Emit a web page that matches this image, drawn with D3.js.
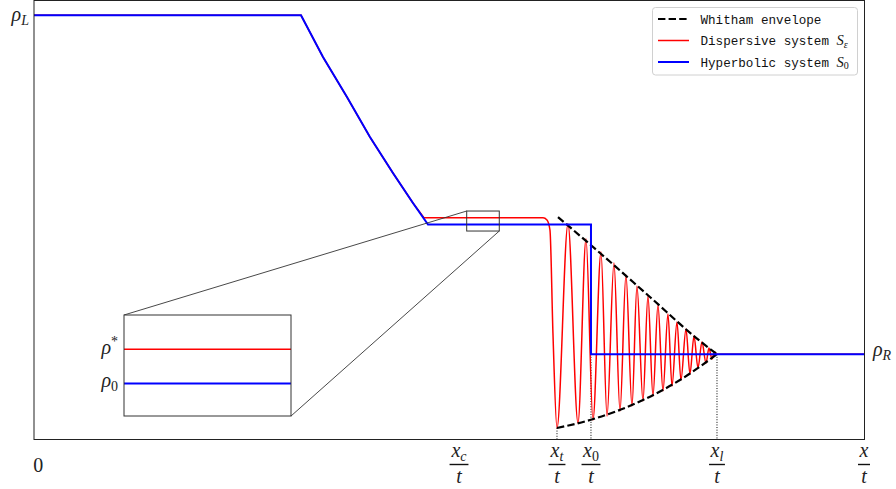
<!DOCTYPE html>
<html lang="en">
<head>
    <meta charset="UTF-8">
    <title>Dam break: dispersive vs hyperbolic</title>
    <script src="https://d3js.org/d3.v7.min.js"></script>
    <style>
        body { margin: 0; background: #fff; }
        .math { font-family: "Liberation Serif", "DejaVu Serif", serif; font-style: italic; font-size: 20px; fill: #222; }
        .up { font-style: normal; }
        .leg { font-family: "Liberation Mono", "DejaVu Sans Mono", monospace; font-size: 12.6px; fill: #111; }
    </style>
</head>
<body>
    <svg width="896" height="489"></svg>

    <script>
    // levels
    var rhoL = 5, rhoR = 1, rho0 = 2.53, rhoStar = 2.61
    // abscissae of the labelled points
    var xc = 5.09, xt = 6.275, x0 = 6.686, xl = 8.21, xMax = 10
    var tickPos = [xc, xt, x0, xl, xMax]
    var tickSub = ["c", "t", "0", "l", ""]

    // rarefaction fan of S0
    var rarefaction = [[3.179, 5], [3.445, 4.507], [3.735, 4.035], [4.013, 3.563],
                       [4.291, 3.139], [4.533, 2.785], [4.715, rho0]]

    // dispersive solution: plateau, then extrema of the oscillations
    var redWave = [[4.666, rhoStar], [6.106, rhoStar], [6.154, 2.584], [6.190, 2.466], [6.226, 1.251],
        [6.275, 0.130], [6.408, 2.537], [6.529, 0.189], [6.626, 2.360], [6.710, 0.224],
        [6.807, 2.206], [6.880, 0.271], [6.964, 2.077], [7.037, 0.330], [7.109, 1.935],
        [7.182, 0.389], [7.242, 1.805], [7.315, 0.448], [7.375, 1.687], [7.436, 0.507],
        [7.496, 1.581], [7.557, 0.566], [7.617, 1.475], [7.666, 0.625], [7.726, 1.381],
        [7.774, 0.696], [7.835, 1.298], [7.883, 0.767], [7.932, 1.215], [7.980, 0.838],
        [8.028, 1.145], [8.077, 0.897], [8.113, 1.074], [8.149, 0.944], [8.180, 1.027],
        [8.210, rhoR], [xMax, rhoR]]

    // Whitham envelope
    var envUpper = [[6.287, 2.619], [6.795, 2.195], [7.399, 1.676], [8.004, 1.156], [8.210, rhoR]]
    var envLower = [[6.275, 0.130], [6.674, 0.224], [7.315, 0.460], [7.762, 0.696], [8.210, rhoR]]

    // zoomed window
    var zoomX = [5.183, 5.577], zoomY = [2.454, 2.690]

    var svg = d3.select("svg")
    var xscale = d3.scaleLinear().domain([-0.05, xMax]).range([34, 865])
    var yscale = d3.scaleLinear().domain([0, 5.18]).range([439, 0])

    var blueData = [[-0.05, rhoL]].concat(rarefaction).concat([[x0, rho0], [x0, rhoR], [xMax, rhoR]])
    // red follows the fan until it meets the plateau
    var redFan = [[-0.05, rhoL]].concat(rarefaction.slice(0, 6)).concat([redWave[0]])

    function drawRed(g, xs, ys) {
        var lin = d3.line().x(d => xs(d[0])).y(d => ys(d[1]))
        var smooth = d3.line().x(d => xs(d[0])).y(d => ys(d[1])).curve(d3.curveMonotoneX)
        g.append("path").attr("d", lin(redFan)).attr("fill", "none")
            .attr("stroke", "#ff0000").attr("stroke-width", 1.5)
        g.append("path").attr("d", smooth(redWave)).attr("fill", "none")
            .attr("stroke", "#ff0000").attr("stroke-width", 1.5)
    }
    function drawBlue(g, xs, ys) {
        var lin = d3.line().x(d => xs(d[0])).y(d => ys(d[1]))
        g.append("path").attr("d", lin(blueData)).attr("fill", "none")
            .attr("stroke", "#0000ff").attr("stroke-width", 2)
    }

    var plot = svg.append("g")

    // dotted markers
    var marks = [[xt, envLower[0][1]], [x0, rhoR], [xl, rhoR]]
    plot.selectAll(".vmark").data(marks).enter().append("line")
        .attr("x1", d => xscale(d[0])).attr("x2", d => xscale(d[0]))
        .attr("y1", d => yscale(d[1])).attr("y2", yscale(0))
        .attr("stroke", "#000").attr("stroke-width", 1).attr("stroke-dasharray", "1,1.6")

    // red, then envelope, then blue
    drawRed(plot, xscale, yscale)
    var smoothE = d3.line().x(d => xscale(d[0])).y(d => yscale(d[1])).curve(d3.curveMonotoneX)
    ;[envUpper, envLower].forEach(function (e) {
        plot.append("path").attr("d", smoothE(e)).attr("fill", "none")
            .attr("stroke", "#000").attr("stroke-width", 2.2).attr("stroke-dasharray", "7.4,3.2")
    })
    drawBlue(plot, xscale, yscale)

    // frame
    svg.append("rect").attr("x", 34).attr("y", 0.5).attr("width", 830.5).attr("height", 439)
        .attr("fill", "none").attr("stroke", "#222").attr("stroke-width", 1)

    // inset
    var inX = 124, inY = 315, inW = 167, inH = 101
    var ix = d3.scaleLinear().domain(zoomX).range([0, inW])
    var iy = d3.scaleLinear().domain(zoomY).range([inH, 0])
    var zx0 = xscale(zoomX[0]), zx1 = xscale(zoomX[1]), zy0 = yscale(zoomY[1]), zy1 = yscale(zoomY[0])

    svg.append("rect").attr("x", zx0).attr("y", zy0).attr("width", zx1 - zx0).attr("height", zy1 - zy0)
        .attr("fill", "none").attr("stroke", "#333").attr("stroke-width", 1)
    svg.append("line").attr("x1", inX).attr("y1", inY).attr("x2", zx0).attr("y2", zy0)
        .attr("stroke", "#333").attr("stroke-width", 0.9)
    svg.append("line").attr("x1", inX + inW).attr("y1", inY + inH).attr("x2", zx1).attr("y2", zy1)
        .attr("stroke", "#333").attr("stroke-width", 0.9)

    svg.append("clipPath").attr("id", "inclip").append("rect").attr("width", inW).attr("height", inH)
    var inset = svg.append("g").attr("transform", "translate(" + inX + "," + inY + ")")
    inset.append("rect").attr("width", inW).attr("height", inH).attr("fill", "#fff")
    var inPlot = inset.append("g").attr("clip-path", "url(#inclip)")
    drawRed(inPlot, ix, iy)
    drawBlue(inPlot, ix, iy)
    inset.append("rect").attr("width", inW).attr("height", inH)
        .attr("fill", "none").attr("stroke", "#333").attr("stroke-width", 1)

    // inset labels
    var ls = inset.append("text").attr("class", "math").attr("x", -6).attr("y", iy(rhoStar) + 5)
        .attr("text-anchor", "end")
    ls.append("tspan").text("ρ")
    ls.append("tspan").attr("font-size", 14).attr("font-style", "normal").attr("dy", -8).text("*")
    var l0 = inset.append("text").attr("class", "math").attr("x", -6).attr("y", iy(rho0) + 4)
        .attr("text-anchor", "end")
    l0.append("tspan").text("ρ")
    l0.append("tspan").attr("font-size", 14).attr("font-style", "normal").attr("dy", 4).text("0")

    // y labels
    var tl = svg.append("text").attr("class", "math").attr("x", 29).attr("y", yscale(rhoL) + 6)
        .attr("text-anchor", "end")
    tl.append("tspan").text("ρ")
    tl.append("tspan").attr("font-size", 14).attr("dy", 4).text("L")
    var tr = svg.append("text").attr("class", "math").attr("x", 873).attr("y", yscale(rhoR) + 2)
    tr.append("tspan").text("ρ")
    tr.append("tspan").attr("font-size", 14).attr("dy", 4).text("R")

    // x labels
    svg.append("text").attr("class", "math up").attr("x", xscale(0)).attr("y", 472)
        .attr("text-anchor", "middle").text("0")
    tickPos.forEach(function (p, i) {
        var cx = xscale(p) - (i == tickPos.length - 1 ? 1 : 0)
        var num = svg.append("text").attr("class", "math").attr("x", cx).attr("y", 457)
            .attr("text-anchor", "middle")
        num.append("tspan").text("x")
        if (tickSub[i]) num.append("tspan").attr("font-size", 14).attr("dy", 4)
            .attr("font-style", tickSub[i] == "0" ? "normal" : "italic").text(tickSub[i])
        var w = num.node().getBBox().width + 2
        svg.append("line").attr("x1", cx - w / 2).attr("x2", cx + w / 2).attr("y1", 464.5).attr("y2", 464.5)
            .attr("stroke", "#111").attr("stroke-width", 1.4)
        svg.append("text").attr("class", "math").attr("x", cx).attr("y", 483)
            .attr("text-anchor", "middle").text("t")
    })

    // legend
    var leg = svg.append("g")
    leg.append("rect").attr("x", 652.5).attr("y", 7.5).attr("width", 205).attr("height", 67.5)
        .attr("rx", 3).attr("fill", "#fff").attr("fill-opacity", 0.9)
        .attr("stroke", "#d0d0d0").attr("stroke-width", 1)
    var items = [
        {t: "Whitham envelope", c: "#000", w: 2.2, dash: "7.4,3.2", s: ""},
        {t: "Dispersive system ", c: "#ff0000", w: 1.5, dash: null, s: "ε"},
        {t: "Hyperbolic system ", c: "#0000ff", w: 2, dash: null, s: "0"}
    ]
    items.forEach(function (d, i) {
        var yy = 19 + i * 21.5
        leg.append("line").attr("x1", 658).attr("x2", 689).attr("y1", yy).attr("y2", yy)
            .attr("stroke", d.c).attr("stroke-width", d.w).attr("stroke-dasharray", d.dash)
        var t = leg.append("text").attr("class", "leg").attr("x", 700.5).attr("y", yy + 4.5).text(d.t)
        if (i > 0) {
            t.append("tspan").attr("font-family", "Liberation Serif, serif").attr("font-style", "italic")
                .attr("font-size", 14.5).text("S")
            t.append("tspan").attr("font-family", "Liberation Serif, serif")
                .attr("font-style", d.s == "0" ? "normal" : "italic")
                .attr("font-size", 10).attr("dy", 2.5).text(d.s)
        }
    })
    </script>
</body>
</html>
